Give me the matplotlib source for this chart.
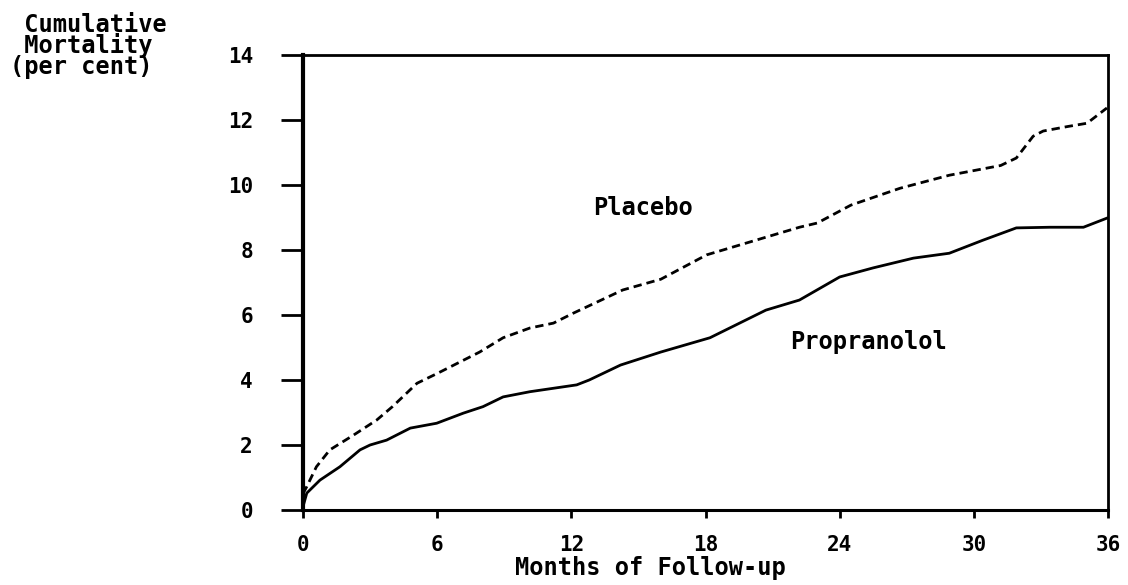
import matplotlib
matplotlib.use("Agg")
from matplotlib import pyplot as plt

# values (months, cumulative mortality %)
placebo_months = [0, 0.17, 0.6, 1.2, 2.25, 3.3, 4.0, 5.1, 6.0, 7.9, 8.95, 10.15, 11.2, 12.1,
                  14.3, 16.0, 18.05, 20.0, 22.2, 23.0, 24.5, 26.7, 28.9, 31.2, 31.9,
                  32.65, 33.1, 34.2, 35.06, 35.95]
placebo_rate = [0.5, 0.72, 1.33, 1.85, 2.3, 2.77, 3.18, 3.9, 4.2, 4.86, 5.3, 5.6, 5.75, 6.06,
                6.77, 7.1, 7.85, 8.25, 8.7, 8.83, 9.38, 9.9, 10.3, 10.6, 10.83,
                11.5, 11.66, 11.8, 11.9, 12.37]

propranolol_months = [0, 0.17, 0.76, 1.65, 2.55, 3.0, 3.74, 4.8, 5.98, 7.17, 8.05, 8.95,
                      10.15, 12.24, 12.8, 14.2, 16.0, 18.2, 20.7, 22.2, 24.0, 25.5, 27.3,
                      28.9, 30.4, 31.9, 33.4, 34.9, 35.95]
propranolol_rate = [0.1, 0.52, 0.92, 1.33, 1.85, 2.0, 2.15, 2.52, 2.67, 2.98, 3.18, 3.48,
                    3.64, 3.85, 4.0, 4.46, 4.86, 5.3, 6.15, 6.46, 7.17, 7.45, 7.75,
                    7.9, 8.3, 8.68, 8.7, 8.7, 8.98]

x_ticks = [0, 6, 12, 18, 24, 30, 36]
y_ticks = [0, 2, 4, 6, 8, 10, 12, 14]

FONT = "DejaVu Sans Mono"
LABEL_SIZE = 17

fig = plt.figure(figsize=(11.28, 5.85), dpi=100)
ax = fig.add_axes([0.2686, 0.1282, 0.7137, 0.7778])

ax.plot(placebo_months, placebo_rate, color="black", lw=2.0, ls=(0, (3.0, 1.8)))
ax.plot(propranolol_months, propranolol_rate, color="black", lw=2.0)

ax.set_xlim(0, 36)
ax.set_ylim(0, 14)
ax.set_xticks(x_ticks)
ax.set_yticks(y_ticks)
ax.tick_params(axis="y", direction="out", length=16, width=2, pad=20)
ax.tick_params(axis="x", direction="out", length=6, width=2, pad=12)
for lab in ax.get_xticklabels() + ax.get_yticklabels():
    lab.set_fontfamily(FONT)
    lab.set_fontweight("bold")
    lab.set_fontsize(15)

for side, w in [("left", 3), ("bottom", 2.2), ("top", 2), ("right", 2)]:
    ax.spines[side].set_linewidth(w)

ax.text(12.97, 9.3, "Placebo", fontfamily=FONT, fontweight="bold", fontsize=LABEL_SIZE,
        va="center", ha="left")
ax.text(21.8, 5.17, "Propranolol", fontfamily=FONT, fontweight="bold", fontsize=LABEL_SIZE,
        va="center", ha="left")

fig.text(0.009, 0.978, " Cumulative\n Mortality\n(per cent)", fontfamily=FONT,
         fontweight="bold", fontsize=LABEL_SIZE, va="top", ha="left", linespacing=0.82)
fig.text(0.577, 0.008, "Months of Follow-up", fontfamily=FONT, fontweight="bold",
         fontsize=LABEL_SIZE, va="bottom", ha="center")

fig.savefig("out.png", dpi=100)
